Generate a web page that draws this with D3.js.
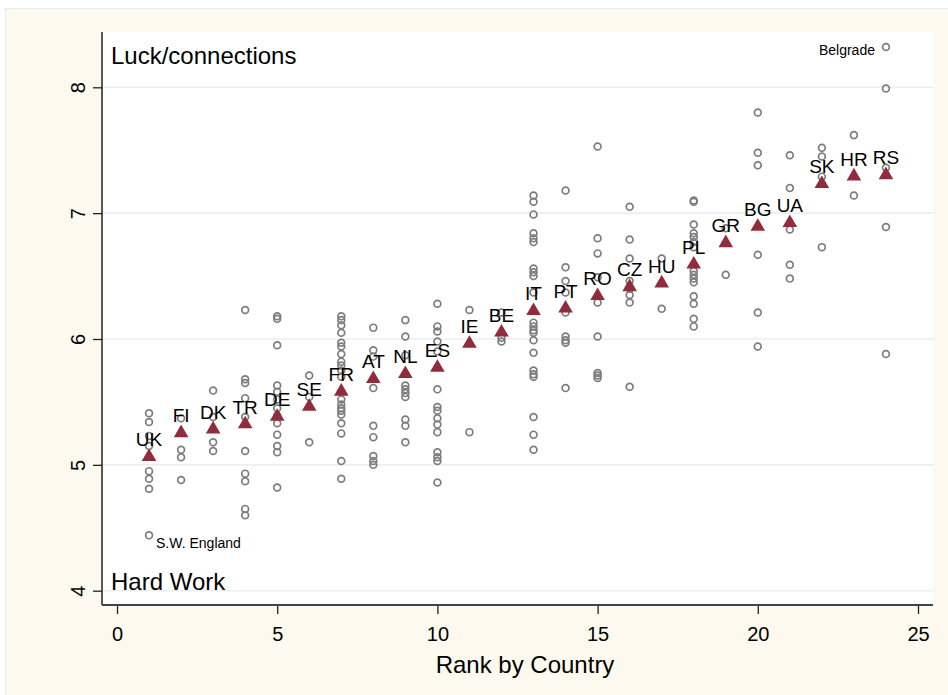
<!DOCTYPE html>
<html>
<head>
<meta charset="utf-8">
<script src="https://cdn.jsdelivr.net/npm/d3@7"></script>
<style>
  html, body { margin: 0; padding: 0; background: #ffffff; }
  svg { display: block; font-family: "Liberation Sans", Arial, Helvetica, sans-serif; }
</style>
</head>
<body>
<svg id="chart" width="948" height="695"></svg>
<script>
// Country rank (x) and country codes
const ranks = [1, 2, 3, 4, 5, 6, 7, 8, 9, 10, 11, 12, 13, 14, 15, 16, 17, 18, 19, 20, 21, 22, 23, 24];
const countries = ["UK", "FI", "DK", "TR", "DE", "SE", "FR", "AT", "NL", "ES", "IE", "BE",
                   "IT", "PT", "RO", "CZ", "HU", "PL", "GR", "BG", "UA", "SK", "HR", "RS"];

// Country means (triangles)
const countryMeans = [5.08, 5.27, 5.30, 5.34, 5.40, 5.48, 5.60, 5.70, 5.74, 5.79, 5.98, 6.07,
                      6.24, 6.26, 6.36, 6.43, 6.46, 6.61, 6.78, 6.91, 6.94, 7.25, 7.31, 7.32];

// Regional scores within each country (hollow circles), one list per rank
const regionScores = [
  [5.41, 5.34, 5.23, 5.15, 4.95, 4.89, 4.81, 4.44],
  [5.37, 5.12, 5.06, 4.88],
  [5.59, 5.38, 5.18, 5.11],
  [6.23, 5.68, 5.65, 5.53, 5.38, 5.11, 4.93, 4.87, 4.65, 4.60],
  [6.18, 6.16, 5.95, 5.63, 5.58, 5.52, 5.45, 5.39, 5.33, 5.24, 5.15, 5.10, 4.82],
  [5.71, 5.54, 5.18],
  [6.18, 6.15, 6.11, 6.05, 5.97, 5.94, 5.88, 5.82, 5.79, 5.75, 5.70, 5.58, 5.52, 5.48, 5.45, 5.43, 5.40, 5.33, 5.25, 5.03, 4.89],
  [6.09, 5.91, 5.86, 5.61, 5.31, 5.22, 5.07, 5.03, 5.00],
  [6.15, 6.02, 5.87, 5.63, 5.60, 5.57, 5.54, 5.36, 5.31, 5.18],
  [6.28, 6.10, 6.06, 5.98, 5.90, 5.60, 5.46, 5.43, 5.37, 5.32, 5.26, 5.10, 5.06, 5.03, 4.86],
  [6.23, 5.26],
  [6.21, 6.01, 5.98],
  [7.14, 7.09, 6.99, 6.84, 6.80, 6.77, 6.56, 6.53, 6.50, 6.37, 6.13, 6.10, 6.07, 6.05, 5.99, 5.89, 5.75, 5.72, 5.70, 5.38, 5.24, 5.12],
  [7.18, 6.57, 6.46, 6.37, 6.21, 6.02, 5.99, 5.97, 5.61],
  [7.53, 6.80, 6.68, 6.49, 6.29, 6.02, 5.73, 5.71, 5.69],
  [7.05, 6.79, 6.64, 6.46, 6.40, 6.35, 6.29, 5.62],
  [6.64, 6.24],
  [7.10, 7.09, 6.91, 6.84, 6.81, 6.77, 6.73, 6.54, 6.51, 6.48, 6.45, 6.34, 6.28, 6.16, 6.10],
  [6.88, 6.51],
  [7.80, 7.48, 7.38, 6.67, 6.21, 5.94],
  [7.46, 7.20, 6.87, 6.59, 6.48],
  [7.52, 7.45, 7.29, 6.73],
  [7.62, 7.14],
  [8.32, 7.99, 7.36, 6.89, 5.88]
];

// Named extreme regions
const namedRegionRanks = [1, 24];
const namedRegionValues = [4.44, 8.32];
const namedRegionNames = ["S.W. England", "Belgrade"];

// Axis ticks and annotation texts
const xTicks = [0, 5, 10, 15, 20, 25];
const yTicks = [4, 5, 6, 7, 8];
const xTitle = "Rank by Country";
const topNote = "Luck/connections";
const bottomNote = "Hard Work";

// ---- drawing ----
const svg = d3.select("#chart");
const W = 948, H = 695;
const plot = { left: 102, right: 933, top: 32, bottom: 605 };

const x = d3.scaleLinear().domain([0, 25]).range([117, 918]);
const y = d3.scaleLinear().domain([4, 8]).range([590.7, 87.3]);

// graph region background
svg.append("rect")
  .attr("x", 5.5).attr("y", 8.5).attr("width", W - 5).attr("height", H - 8)
  .attr("fill", "#fef9ee").attr("stroke", "#e3ecef").attr("stroke-width", 1);

// plot region
svg.append("rect")
  .attr("x", plot.left).attr("y", plot.top)
  .attr("width", plot.right - plot.left).attr("height", plot.bottom - plot.top)
  .attr("fill", "#ffffff");

// horizontal grid lines
svg.append("g").selectAll("line").data(yTicks).join("line")
  .attr("x1", plot.left).attr("x2", plot.right)
  .attr("y1", d => y(d)).attr("y2", d => y(d))
  .attr("stroke", "#e8f0f2").attr("stroke-width", 1.6);

// y axis
const yAxis = svg.append("g")
  .attr("transform", `translate(${plot.left},0)`)
  .call(d3.axisLeft(y).tickValues(yTicks).tickSize(9).tickFormat(d3.format("d")));
yAxis.select(".domain").remove();
yAxis.selectAll(".tick line").attr("stroke", "#222").attr("stroke-width", 1.3);
yAxis.selectAll(".tick text")
  .attr("x", null).attr("dy", null)
  .attr("transform", "translate(-17,0) rotate(-90)")
  .attr("text-anchor", "middle")
  .attr("font-size", 20).attr("fill", "#000")
  .style("font-family", "'Liberation Sans', Arial, sans-serif");
svg.append("line")
  .attr("x1", plot.left).attr("x2", plot.left)
  .attr("y1", plot.top).attr("y2", plot.bottom)
  .attr("stroke", "#222").attr("stroke-width", 1.5);

// x axis
const xAxis = svg.append("g")
  .attr("transform", `translate(0,${plot.bottom})`)
  .call(d3.axisBottom(x).tickValues(xTicks).tickSize(9).tickPadding(13).tickFormat(d3.format("d")));
xAxis.select(".domain").remove();
xAxis.selectAll(".tick line").attr("stroke", "#222").attr("stroke-width", 1.3);
xAxis.selectAll(".tick text")
  .attr("font-size", 20).attr("fill", "#000")
  .style("font-family", "'Liberation Sans', Arial, sans-serif");
svg.append("line")
  .attr("x1", plot.left).attr("x2", plot.right)
  .attr("y1", plot.bottom).attr("y2", plot.bottom)
  .attr("stroke", "#444").attr("stroke-width", 2);

svg.append("text")
  .attr("x", 525).attr("y", 673)
  .attr("text-anchor", "middle").attr("font-size", 24).attr("fill", "#000")
  .text(xTitle);

// regional points
const regionPoints = regionScores.flatMap((vals, i) => vals.map(v => ({ rank: ranks[i], value: v })));
svg.append("g").selectAll("circle").data(regionPoints).join("circle")
  .attr("cx", d => x(d.rank)).attr("cy", d => y(d.value))
  .attr("r", 3.4)
  .attr("fill", "none").attr("stroke", "#7d7d7d").attr("stroke-width", 1.7);

// labels for named regions
const named = namedRegionNames.map((n, i) => ({ name: n, rank: namedRegionRanks[i], value: namedRegionValues[i] }));
svg.append("g").selectAll("text").data(named).join("text")
  .attr("x", d => d.rank < 12 ? x(d.rank) + 7 : x(d.rank) - 11)
  .attr("y", d => d.rank < 12 ? y(d.value) + 13 : y(d.value) + 8)
  .attr("text-anchor", d => d.rank < 12 ? "start" : "end")
  .attr("font-size", 14).attr("fill", "#000")
  .text(d => d.name);

// country means as triangles (centred on bounding box)
const triangle = {
  draw(ctx, size) {
    const w = Math.sqrt(size * 2 / 0.86), h = w * 0.86;
    ctx.moveTo(0, -h / 2);
    ctx.lineTo(w / 2, h / 2);
    ctx.lineTo(-w / 2, h / 2);
    ctx.closePath();
  }
};
const means = countries.map((c, i) => ({ code: c, rank: ranks[i], value: countryMeans[i] }));
svg.append("g").selectAll("path").data(means).join("path")
  .attr("transform", d => `translate(${x(d.rank)},${y(d.value)})`)
  .attr("d", d3.symbol().type(triangle).size(92))
  .attr("fill", "#902d3c");

svg.append("g").selectAll("text").data(means).join("text")
  .attr("x", d => x(d.rank)).attr("y", d => y(d.value) - 8.5)
  .attr("text-anchor", "middle").attr("font-size", 19).attr("fill", "#000")
  .text(d => d.code);

// notes inside the plot region
svg.append("text").attr("x", 111).attr("y", 64)
  .attr("font-size", 24).attr("fill", "#000").text(topNote);
svg.append("text").attr("x", 111).attr("y", 590)
  .attr("font-size", 24).attr("fill", "#000").text(bottomNote);
</script>
</body>
</html>
